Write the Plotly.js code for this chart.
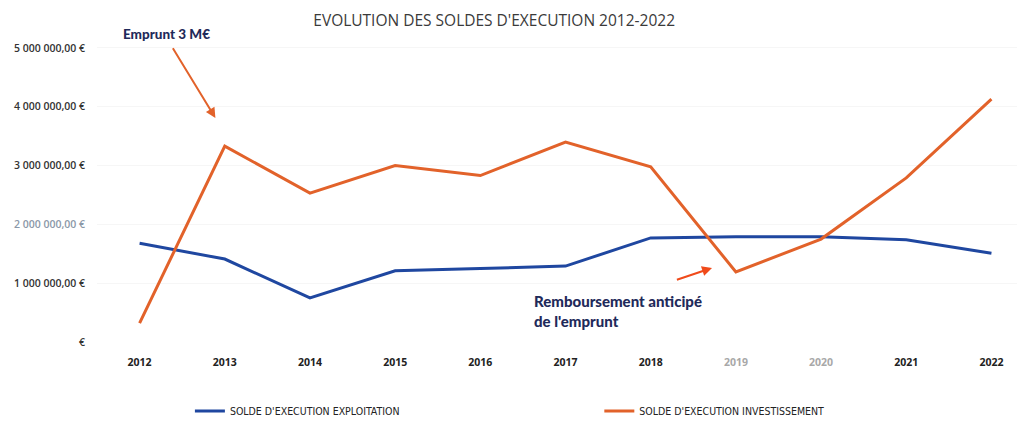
<!DOCTYPE html>
<html>
<head>
<meta charset="utf-8">
<script src="https://cdn.plot.ly/plotly-3.0.1.min.js"></script>
<style>html,body{margin:0;padding:0;background:#fff;}#chart{width:1021px;height:421px;}</style>
</head>
<body>
<div id="chart"></div>
<script>
var years = [2012, 2013, 2014, 2015, 2016, 2017, 2018, 2019, 2020, 2021, 2022];
var exploitation = [1680000, 1410000, 750000, 1210000, 1250000, 1290000, 1770000, 1790000, 1790000, 1740000, 1510000];
var investissement = [320000, 3330000, 2530000, 3000000, 2830000, 3400000, 2980000, 1190000, 1750000, 2790000, 4130000];
var yTickVals = [0, 1000000, 2000000, 3000000, 4000000, 5000000];
var yTickText = ['€', '1 000 000,00 €', '<span style="color:#8b98a8">2 000 000,00 €</span>', '3 000 000,00 €', '4 000 000,00 €', '5 000 000,00 €'];
var xTickText = ['2012', '2013', '2014', '2015', '2016', '2017', '2018', '<span style="color:#a8a8a8">2019</span>', '<span style="color:#a8a8a8">2020</span>', '2021', '2022'];
var seriesNames = ['SOLDE D\'EXECUTION EXPLOITATION', 'SOLDE D\'EXECUTION INVESTISSEMENT'];
var titleText = 'EVOLUTION DES SOLDES D\'EXECUTION 2012-2022';
var note1 = 'Emprunt 3 M€';
var note2 = 'Remboursement anticipé<br>de l\'emprunt';

var traces = [
  {x: years, y: exploitation, type: 'scatter', mode: 'lines', name: seriesNames[0],
   line: {color: '#1f47a0', width: 3}, legend: 'legend'},
  {x: years, y: investissement, type: 'scatter', mode: 'lines', name: seriesNames[1],
   line: {color: '#e2622a', width: 3}, legend: 'legend2'}
];

var legendFont = {family: 'Liberation Sans Narrow, DejaVu Sans Condensed, sans-serif', size: 10.5, color: '#222'};
var noteFont = {family: 'Lato, sans-serif', size: 15, color: '#1f2a5a', weight: 900};

var layout = {
  width: 1021, height: 421,
  margin: {l: 97, r: 4, t: 42, b: 79},
  paper_bgcolor: '#fff', plot_bgcolor: '#fff',
  font: {family: 'Open Sans, sans-serif', color: '#333'},
  title: {text: titleText, x: 0.484, xanchor: 'center', y: 0.952, yanchor: 'middle',
          font: {family: 'Open Sans, sans-serif', size: 15.5, color: '#3a3a3a'}},
  xaxis: {range: [2011.5, 2022.3], tickvals: years, ticktext: xTickText, showgrid: false,
          zeroline: false, showline: false, ticks: '', ticklabelstandoff: 12,
          tickfont: {family: 'Open Sans, sans-serif', size: 10.5, color: '#222', weight: 'bold'}},
  yaxis: {range: [0, 5100000], tickvals: yTickVals, ticktext: yTickText, showgrid: true,
          gridcolor: '#f6f6f6', gridwidth: 1, zeroline: false, showline: false, ticks: '',
          ticklabelstandoff: 11,
          tickfont: {family: 'Open Sans, sans-serif', size: 10.5, color: '#333', weight: 600}},
  showlegend: true,
  legend: {orientation: 'h', xref: 'container', yref: 'container', x: 0.186, xanchor: 'left',
           y: 0.024, yanchor: 'middle', itemwidth: 30, font: legendFont, bgcolor: 'rgba(0,0,0,0)'},
  legend2: {orientation: 'h', xref: 'container', yref: 'container', x: 0.587, xanchor: 'left',
            y: 0.024, yanchor: 'middle', itemwidth: 30, font: legendFont, bgcolor: 'rgba(0,0,0,0)'},
  annotations: [
    {x: 2012.32, y: 1.027, xref: 'x', yref: 'paper', yanchor: 'middle', text: note1, showarrow: false,
     font: {family: 'Lato, sans-serif', size: 13.5, color: '#1f2a5a', weight: 900}},
    {x: 2012.89, y: 3810000, xref: 'x', yref: 'y', ax: 2012.38, ay: 5020000, axref: 'x', ayref: 'y',
     text: '', showarrow: true, arrowhead: 2, arrowsize: 1, arrowwidth: 2, arrowcolor: '#e2622a'},
    {x: 2016.61, y: 880000, xref: 'x', yref: 'y', text: note2, showarrow: false, align: 'left',
     xanchor: 'left', yanchor: 'top', font: noteFont},
    {x: 2018.72, y: 1260000, xref: 'x', yref: 'y', ax: 2018.29, ay: 1050000, axref: 'x', ayref: 'y',
     text: '', showarrow: true, arrowhead: 2, arrowsize: 1, arrowwidth: 2, arrowcolor: '#f04a1a'}
  ]
};

Plotly.newPlot('chart', traces, layout, {displayModeBar: false, staticPlot: true});
</script>
</body>
</html>
